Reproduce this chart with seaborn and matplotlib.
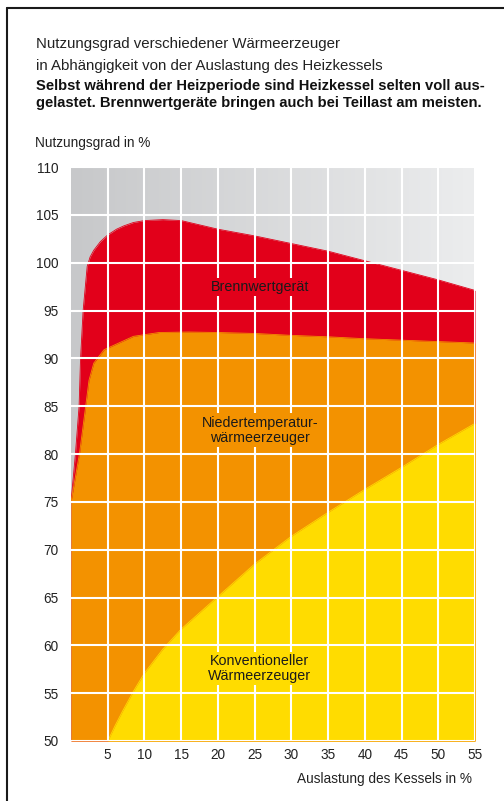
import numpy as np
import pandas as pd
import matplotlib
matplotlib.use("Agg")
import matplotlib.pyplot as plt
from matplotlib.colors import LinearSegmentedColormap
from matplotlib.lines import Line2D
import seaborn as sns

# Auslastung (%) and Nutzungsgrad (%) of the three heat generators
brennwert_x = [0, 0.6, 1.1, 1.3, 1.65, 2.2, 2.6, 3.1, 4.0, 5.0, 6.2, 7.2, 8.5, 10, 12.5, 15, 20, 25, 30, 35, 40, 45, 50, 55]
brennwert_y = [75, 80, 85, 90, 95, 99.6, 100.6, 101.3, 102.2, 102.9, 103.5, 103.85, 104.2, 104.4, 104.5, 104.4,
               103.5, 102.8, 102.0, 101.2, 100.2, 99.2, 98.2, 97.1]

nt_x = [0, 1.15, 2.0, 2.45, 3.1, 4.5, 6.5, 8.5, 12, 16, 20, 25, 30, 35, 40, 45, 50, 55]
nt_y = [75, 80, 85, 87.7, 89.5, 90.9, 91.6, 92.3, 92.7, 92.75, 92.7, 92.6, 92.4, 92.25, 92.05, 91.9, 91.75, 91.6]

konv_x = [5, 6, 7, 8.5, 10, 12.5, 15, 20, 25, 30, 35, 40, 45, 50, 55]
konv_y = [50, 51.6, 53.1, 55.2, 57.1, 59.6, 61.7, 65.1, 68.5, 71.4, 73.9, 76.3, 78.6, 81.0, 83.2]

x_ticks = [5, 10, 15, 20, 25, 30, 35, 40, 45, 50, 55]
y_ticks = [50, 55, 60, 65, 70, 75, 80, 85, 90, 95, 100, 105, 110]

series_labels = ["Brennwertgerät", "Niedertemperatur-\nwärmeerzeuger", "Konventioneller\nWärmeerzeuger"]

RED = "#e2001a"
ORANGE = "#f39200"
YELLOW = "#ffdc00"
TEXT = "#222222"

sns.set_theme(style="white")
plt.rcParams["font.family"] = ["Liberation Sans", "DejaVu Sans"]

W, H = 504, 801
fig = plt.figure(figsize=(W / 100, H / 100), dpi=100)
fig.patch.set_facecolor("white")
ax = fig.add_axes([71 / W, 60 / H, 404 / W, 574 / H])

# soft grey gradient behind the curves
grad = np.linspace(0, 1, 256)[None, :]
cmap = LinearSegmentedColormap.from_list("bg", ["#c7c8ca", "#ecedee"])
ax.imshow(grad, extent=[0, 55, 50, 110], aspect="auto", cmap=cmap, zorder=0)

df = pd.concat([
    pd.DataFrame({"x": brennwert_x, "y": brennwert_y, "typ": "brennwert"}),
    pd.DataFrame({"x": nt_x, "y": nt_y, "typ": "nt"}),
    pd.DataFrame({"x": konv_x, "y": konv_y, "typ": "konv"}),
])

for typ, color, z in [("brennwert", RED, 1.0), ("nt", ORANGE, 1.1), ("konv", YELLOW, 1.2)]:
    d = df[df["typ"] == typ]
    ax.fill_between(d["x"], d["y"], 50, color=color, lw=0, zorder=z)
    sns.lineplot(data=d, x="x", y="y", color=color, lw=0.6, ax=ax, zorder=z + 0.05,
                 estimator=None, sort=False)

ax.set_xlim(0, 55)
ax.set_ylim(50, 110)
ax.set_xticks(x_ticks)
ax.set_yticks(y_ticks)
ax.set_xticklabels([str(v) for v in x_ticks])
ax.set_yticklabels([str(v) for v in y_ticks])
ax.set_xlabel("")
ax.set_ylabel("")
ax.grid(True, color="white", lw=1.5)
ax.set_axisbelow(False)
for s in ax.spines.values():
    s.set_visible(False)
ax.tick_params(axis="y", length=0, pad=9, labelsize=9.8, labelcolor=TEXT)
ax.tick_params(axis="x", length=0, pad=5, labelsize=9.8, labelcolor=TEXT)

lab_kw = dict(ha="center", va="center", fontsize=10.3, color="#1a1a1a", zorder=4, linespacing=1.1)
ax.text(25.7, 97.45, series_labels[0], bbox=dict(facecolor=RED, edgecolor="none", pad=1.5), **lab_kw)
ax.text(25.7, 82.5, series_labels[1], bbox=dict(facecolor=ORANGE, edgecolor="none", pad=1.5), **lab_kw)
ax.text(25.7, 57.6, series_labels[2], bbox=dict(facecolor=YELLOW, edgecolor="none", pad=1.5), **lab_kw)

# header texts
fig.text(36 / W, 1 - 44 / H, "Nutzungsgrad verschiedener Wärmeerzeuger", fontsize=10.8, color=TEXT, va="center")
fig.text(36 / W, 1 - 66 / H, "in Abhängigkeit von der Auslastung des Heizkessels", fontsize=10.8, color=TEXT, va="center")
fig.text(36 / W, 1 - 86 / H, "Selbst während der Heizperiode sind Heizkessel selten voll aus-",
         fontsize=10.6, fontweight="bold", color="#111111", va="center")
fig.text(36 / W, 1 - 103 / H, "gelastet. Brennwertgeräte bringen auch bei Teillast am meisten.",
         fontsize=10.6, fontweight="bold", color="#111111", va="center")
fig.text(35 / W, 1 - 143 / H, "Nutzungsgrad in %", fontsize=9.8, color=TEXT, va="center")
fig.text(472 / W, 1 - 779 / H, "Auslastung des Kessels in %", fontsize=9.8, color=TEXT, va="center", ha="right")

# frame lines on the top and left
fig.add_artist(Line2D([7 / W, 1], [1 - 8 / H, 1 - 8 / H], transform=fig.transFigure, color="#1a1a1a", lw=1.5))
fig.add_artist(Line2D([7 / W, 7 / W], [0, 1 - 8 / H], transform=fig.transFigure, color="#1a1a1a", lw=1.5))

fig.savefig("out.png", dpi=100)
